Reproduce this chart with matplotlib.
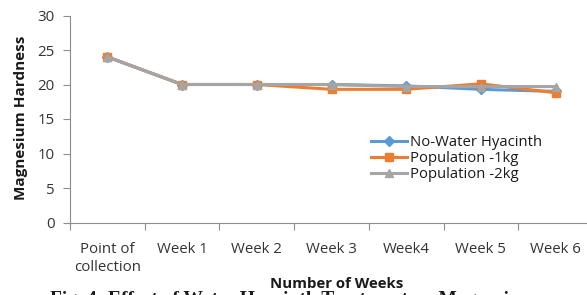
import matplotlib
matplotlib.use("Agg")
import matplotlib.pyplot as plt

categories = ["Point of\ncollection", "Week 1", "Week 2", "Week 3", "Week4", "Week 5", "Week 6"]
no_water = [24, 20, 20, 20, 19.8, 19.3, 19.0]
pop_1kg = [24, 20, 20, 19.3, 19.3, 20.1, 18.8]
pop_2kg = [24, 20, 20, 20, 19.7, 19.7, 19.7]
series_names = ["No-Water Hyacinth", "Population -1kg", "Population -2kg"]
y_ticks = [0, 5, 10, 15, 20, 25, 30]

plt.rcParams['font.family'] = ['Open Sans', 'DejaVu Sans']

W, H = 587, 295
fig = plt.figure(figsize=(W / 100, H / 100), dpi=100)
ax = fig.add_axes([70 / W, (H - 222.5) / H, 523 / W, (222.5 - 15.5) / H])

x = list(range(len(categories)))
lw = 2.2
ax.plot(x, no_water, color="#5B9BD5", lw=lw, marker="D", ms=5, label=series_names[0], zorder=3)
ax.plot(x, pop_1kg, color="#ED7D31", lw=lw, marker="s", ms=5.5, label=series_names[1], zorder=3)
ax.plot(x, pop_2kg, color="#A5A5A5", lw=lw, marker="^", ms=6, label=series_names[2], zorder=4)

ax.set_xlim(-0.5, len(categories) - 0.5)
ax.set_ylim(0, 30)
ax.set_yticks(y_ticks)
ax.set_xticks(x)
ax.set_xticklabels(categories, fontsize=10.8, color="#333333", linespacing=1.3)
ax.set_xticks([i - 0.5 for i in range(len(categories) + 1)], minor=True)
ax.tick_params(axis='x', which='major', length=0, pad=14)
ax.tick_params(axis='x', which='minor', length=5, color="#8C8C8C", width=0.8)
ax.tick_params(axis='y', length=5, color="#8C8C8C", width=0.8, labelsize=10.8,
               labelcolor="#333333", pad=6)

for s in ["top", "right"]:
    ax.spines[s].set_visible(False)
for s in ["left", "bottom"]:
    ax.spines[s].set_color("#8C8C8C")
    ax.spines[s].set_linewidth(0.8)

fig.text(21 / W, (H - 118) / H, "Magnesium Hardness", fontsize=11, fontweight="bold",
         color="#1a1a1a", rotation=90, ha="center", va="center")
fig.text(337 / W, (H - 284) / H, "Number of Weeks", fontsize=10.8, fontweight="bold",
         color="#1a1a1a", ha="center", va="center")

leg = fig.legend(loc="upper left", bbox_to_anchor=(364 / W, (H - 128) / H),
                 bbox_transform=fig.transFigure, frameon=False, fontsize=10.7,
                 handlelength=2.4, handletextpad=0.2, labelspacing=0.05, borderpad=0)
for t in leg.get_texts():
    t.set_color("#1a1a1a")

fig.text(50 / W, (H - 291) / H, "Fig. 4: Effect of Water Hyacinth Treatment on Magnesium",
         fontsize=14, fontweight="bold", family="Liberation Serif", color="#1a1a1a",
         ha="left", va="top")

fig.savefig("out.png", dpi=100)
